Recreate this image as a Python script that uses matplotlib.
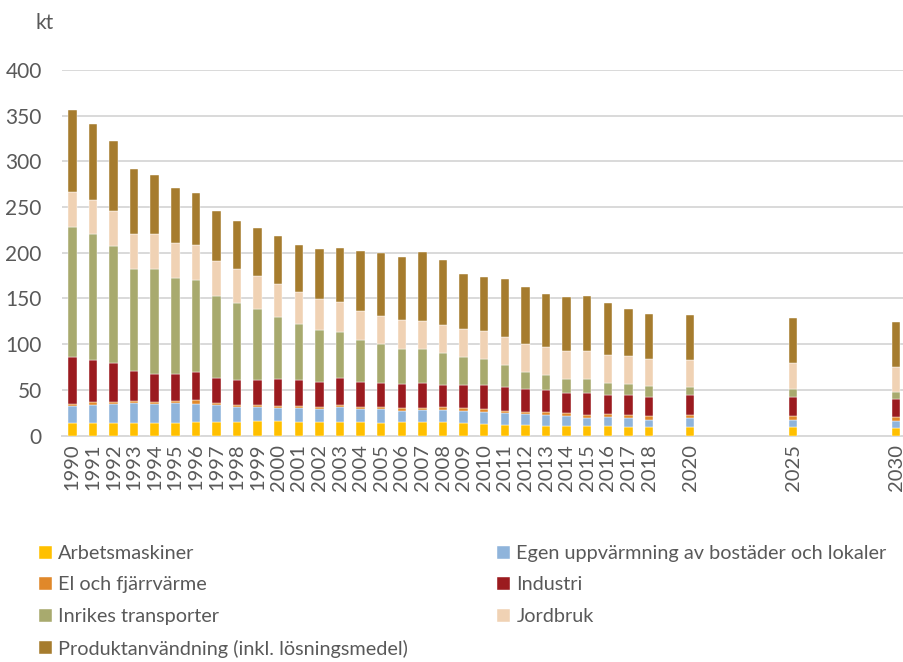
import matplotlib
matplotlib.use("Agg")
import matplotlib.pyplot as plt
import numpy as np

plt.rcParams['font.family'] = ['Lato', 'DejaVu Sans']

years = [1990, 1991, 1992, 1993, 1994, 1995, 1996, 1997, 1998, 1999,
         2000, 2001, 2002, 2003, 2004, 2005, 2006, 2007, 2008, 2009,
         2010, 2011, 2012, 2013, 2014, 2015, 2016, 2017, 2018,
         2020, 2025, 2030]

arbetsmaskiner = [13.7, 13.7, 13.8, 13.8, 13.8, 13.9, 14.4, 14.9, 15.3, 15.8,
                  15.8, 15.3, 15.3, 14.9, 14.9, 14.2, 14.5, 15.3, 14.5, 13.8,
                  13.1, 12.0, 11.6, 10.9, 10.5, 10.5, 10.0, 9.5, 9.1,
                  8.8, 8.8, 8.5]
egen_uppvarmning = [18.7, 20.0, 20.6, 21.7, 20.2, 21.4, 20.5, 18.6, 15.8, 15.3,
                    14.6, 14.4, 13.4, 16.0, 13.8, 14.9, 12.4, 12.3, 13.5, 12.7,
                    12.7, 12.7, 11.7, 11.6, 11.0, 9.1, 9.8, 10.1, 8.4,
                    10.3, 8.7, 7.7]
el_fjarrvarme = [2.3, 2.9, 2.8, 2.4, 2.8, 2.9, 4.4, 2.2, 2.2, 2.2,
                 2.2, 2.5, 2.6, 2.6, 2.6, 2.5, 2.9, 2.9, 2.9, 3.3,
                 3.7, 2.6, 2.9, 3.3, 2.9, 2.6, 3.3, 2.8, 3.3,
                 3.4, 3.5, 3.6]
industri = [51.3, 46.1, 42.4, 33.1, 31.0, 29.6, 29.9, 27.7, 27.2, 27.7,
            29.3, 28.1, 27.6, 29.4, 27.2, 25.5, 26.6, 27.3, 24.7, 25.5,
            25.8, 25.4, 24.7, 23.7, 22.5, 24.0, 21.4, 21.7, 21.0,
            21.6, 20.8, 20.4]
inrikes_transporter = [142.0, 138.0, 128.2, 111.2, 114.4, 105.0, 101.0, 89.6, 84.7, 77.1,
                       68.1, 61.8, 56.4, 50.6, 45.9, 42.7, 38.6, 37.2, 34.6, 30.7,
                       28.1, 24.8, 18.6, 17.0, 14.9, 15.3, 13.3, 12.8, 12.1,
                       8.7, 8.8, 7.3]
jordbruk = [38.5, 37.0, 37.5, 38.4, 38.8, 37.4, 38.2, 38.2, 37.2, 36.2,
            35.5, 34.8, 33.6, 32.1, 31.8, 31.2, 31.6, 29.8, 30.2, 31.0,
            30.8, 30.2, 30.1, 29.9, 30.5, 30.5, 30.4, 30.1, 29.4,
            29.6, 28.4, 27.4]
produktanvandning = [89.8, 83.5, 77.3, 70.6, 64.0, 60.6, 57.3, 54.4, 52.6, 53.1,
                     52.9, 51.9, 55.1, 59.1, 66.0, 68.6, 68.7, 75.6, 71.6, 59.6,
                     58.8, 63.1, 63.2, 58.7, 59.2, 60.6, 57.1, 51.0, 49.3,
                     49.8, 49.2, 49.3]

series_names = ["Arbetsmaskiner",
                "Egen uppvärmning av bostäder och lokaler",
                "El och fjärrvärme",
                "Industri",
                "Inrikes transporter",
                "Jordbruk",
                "Produktanvändning (inkl. lösningsmedel)"]
series_values = [arbetsmaskiner, egen_uppvarmning, el_fjarrvarme, industri,
                 inrikes_transporter, jordbruk, produktanvandning]
colors = ["#FFC000", "#8FB4DB", "#E0882A", "#9B1B1F",
          "#A8AA6E", "#F0D2B4", "#A67C2E"]

y_ticks = [0, 50, 100, 150, 200, 250, 300, 350, 400]

text_color = "#595959"
grid_color = "#D9D9D9"

fig = plt.figure(figsize=(9.04, 6.62), dpi=100)
ax = fig.add_axes([62 / 904, (662 - 435.5) / 662, (903 - 62) / 904, (435.5 - 70) / 662])

x = np.array(years, dtype=float)
bottom = np.zeros(len(years))
handles = []
for name, vals, col in zip(series_names, series_values, colors):
    vals = np.array(vals)
    b = ax.bar(x, vals, width=0.41, bottom=bottom, color=col,
               edgecolor="white", linewidth=0.3, label=name, zorder=3)
    handles.append(b)
    bottom += vals

ax.set_xlim(1989.5, 2030.33)
ax.set_ylim(0, 400)
ax.set_yticks(y_ticks)
ax.set_yticklabels([str(v) for v in y_ticks], fontsize=15, color=text_color)
ax.set_xticks(years)
ax.set_xticklabels([str(y) for y in years], rotation=90, fontsize=14.5,
                   color=text_color)
ax.tick_params(axis="both", length=0)
ax.tick_params(axis="y", pad=14.5)
ax.tick_params(axis="x", pad=6)

ax.grid(axis="y", color=grid_color, linewidth=1.4, zorder=0)
ax.set_axisbelow(True)
for side in ["top", "right", "left"]:
    ax.spines[side].set_visible(False)
ax.spines["bottom"].set_color(grid_color)
ax.spines["bottom"].set_linewidth(1.4)

fig.text(36 / 904, 1 - 23 / 662, "kt", fontsize=15, color=text_color,
         ha="left", va="center")

order = [0, 2, 4, 6, 1, 3, 5]
leg = fig.legend([handles[i] for i in order], [series_names[i] for i in order],
                 ncol=2, loc="upper left", bbox_to_anchor=(39 / 904, 1 - 545 / 662),
                 frameon=False, fontsize=14.3, handlelength=0.63, handleheight=0.63,
                 handletextpad=0.33, labelspacing=0.73, columnspacing=4.5,
                 borderaxespad=0, borderpad=0)
for t in leg.get_texts():
    t.set_color(text_color)

fig.savefig("out.png", dpi=100)
